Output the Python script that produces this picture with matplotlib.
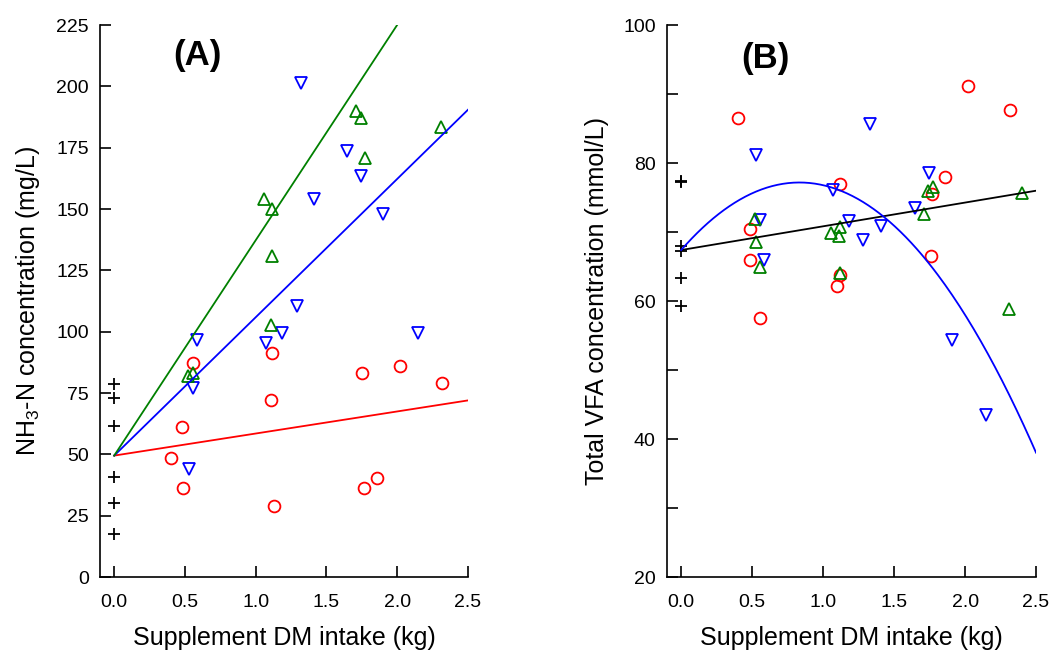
import numpy as np
import matplotlib
matplotlib.use("Agg")
from matplotlib import pyplot as plt

plt.rcParams['font.family'] = ['Liberation Sans', 'DejaVu Sans']
plt.rcParams['mathtext.default'] = 'regular'

# Panel A: NH3-N concentration (mg/L) vs supplement DM intake (kg)
a_ctrl_x = [0, 0, 0, 0, 0, 0]
a_ctrl_y = [78.5, 72.8, 61.7, 40.9, 30.2, 17.6]
a_red_x = [0.557, 1.118, 1.752, 2.019, 2.315, 1.108, 0.481, 0.399, 0.488, 1.766, 1.859, 1.127]
a_red_y = [87.4, 91.4, 83.2, 86.0, 79.0, 72.0, 61.0, 48.6, 36.1, 36.1, 40.3, 29.1]
a_blue_x = [1.32, 1.644, 1.742, 1.413, 1.90, 1.29, 1.188, 2.148, 1.07, 0.587, 0.557, 0.529]
a_blue_y = [201.5, 173.5, 163.5, 154.0, 148.0, 110.5, 99.5, 99.5, 95.3, 96.8, 77.1, 43.9]
a_green_x = [1.707, 1.742, 2.313, 1.770, 1.056, 1.115, 1.113, 1.11, 0.524, 0.557]
a_green_y = [190.0, 187.3, 183.5, 170.7, 154.3, 150.0, 130.7, 102.7, 82.0, 83.3]
# fitted lines (intercept, slope)
a_red_fit = (49.5, 9.0)
a_blue_fit = (49.5, 56.4)
a_green_fit = (49.5, 87.8)

# Panel B: total VFA concentration (mmol/L)
b_ctrl_x = [0, 0, 0, 0, 0, 0]
b_ctrl_y = [77.2, 77.4, 68.0, 67.3, 63.3, 59.3]
b_red_x = [0.400, 2.022, 2.316, 1.860, 1.116, 1.769, 0.482, 0.487, 1.757, 1.12, 1.10, 0.557]
b_red_y = [86.5, 91.2, 87.7, 78.0, 77.0, 75.5, 70.5, 65.9, 66.5, 63.75, 62.2, 57.6]
b_blue_x = [1.327, 0.526, 1.745, 1.068, 1.646, 0.557, 1.183, 1.406, 1.281, 0.587, 1.906, 2.15]
b_blue_y = [85.6, 81.2, 78.6, 76.1, 73.5, 71.8, 71.6, 70.9, 68.8, 65.9, 54.4, 43.5]
b_green_x = [2.402, 1.741, 1.772, 1.712, 0.519, 1.118, 1.055, 1.114, 0.527, 0.557, 1.118, 2.312]
b_green_y = [75.6, 76.0, 76.5, 72.6, 71.9, 70.8, 69.9, 69.4, 68.6, 65.0, 64.0, 58.9]
b_black_fit = (67.4, 3.44)
b_blue_quad = (67.4, 23.5, -14.1)

RED, BLUE, GREEN = '#ff0000', '#0000ff', '#008000'

fig = plt.figure(figsize=(10.53, 6.5), dpi=100)
axA = fig.add_axes([0.095, 0.1123, 0.3494, 0.849])
axB = fig.add_axes([0.6334, 0.1123, 0.3505, 0.849])


def style(ax):
    for s in ['top', 'right']:
        ax.spines[s].set_visible(False)
    for s in ['left', 'bottom']:
        ax.spines[s].set_linewidth(1.2)
    ax.tick_params(direction='in', length=8, width=1.2, labelsize=14)
    ax.tick_params(axis='y', pad=8)
    ax.tick_params(axis='x', pad=12)
    ax.set_xlim(-0.1, 2.5)
    ax.set_xticks([0.0, 0.5, 1.0, 1.5, 2.0, 2.5])
    ax.set_xticklabels(['0.0', '0.5', '1.0', '1.5', '2.0', '2.5'])
    ax.set_xlabel('Supplement DM intake (kg)', fontsize=18, labelpad=11)


mk = dict(linestyle='none', markerfacecolor='none', markeredgewidth=1.3)
xx = np.linspace(0, 2.5, 200)

# Panel A
axA.plot(a_ctrl_x, a_ctrl_y, marker='+', color='black', markersize=9, **mk)
axA.plot(a_red_x, a_red_y, marker='o', color=RED, markersize=8.5, **mk)
axA.plot(a_blue_x, a_blue_y, marker='v', color=BLUE, markersize=8.5, **mk)
axA.plot(a_green_x, a_green_y, marker='^', color=GREEN, markersize=8.5, **mk)
axA.plot(xx, a_red_fit[0] + a_red_fit[1] * xx, color=RED, lw=1.3)
axA.plot(xx, a_blue_fit[0] + a_blue_fit[1] * xx, color=BLUE, lw=1.3)
axA.plot(xx, a_green_fit[0] + a_green_fit[1] * xx, color=GREEN, lw=1.3)
style(axA)
axA.set_ylim(0, 225)
axA.set_yticks(np.arange(0, 226, 25))
axA.set_ylabel('NH$_3$-N concentration (mg/L)', fontsize=18, labelpad=10)
axA.text(0.266, 0.945, '(A)', transform=axA.transAxes, fontsize=25,
         fontweight='bold', ha='center', va='center')

# Panel B
axB.plot(b_ctrl_x, b_ctrl_y, marker='+', color='black', markersize=9, **mk)
axB.plot(b_red_x, b_red_y, marker='o', color=RED, markersize=8.5, **mk)
axB.plot(b_blue_x, b_blue_y, marker='v', color=BLUE, markersize=8.5, **mk)
axB.plot(b_green_x, b_green_y, marker='^', color=GREEN, markersize=8.5, **mk)
axB.plot(xx, b_black_fit[0] + b_black_fit[1] * xx, color='black', lw=1.3)
axB.plot(xx, b_blue_quad[0] + b_blue_quad[1] * xx + b_blue_quad[2] * xx ** 2,
         color=BLUE, lw=1.3)
style(axB)
axB.set_ylim(20, 100)
axB.set_yticks(np.arange(20, 101, 10))
axB.set_yticklabels([str(v) if v % 20 == 0 else '' for v in range(20, 101, 10)])
axB.set_ylabel('Total VFA concentration (mmol/L)', fontsize=18, labelpad=10)
axB.text(0.266, 0.94, '(B)', transform=axB.transAxes, fontsize=25,
         fontweight='bold', ha='center', va='center')

fig.savefig('out.png', dpi=100)
